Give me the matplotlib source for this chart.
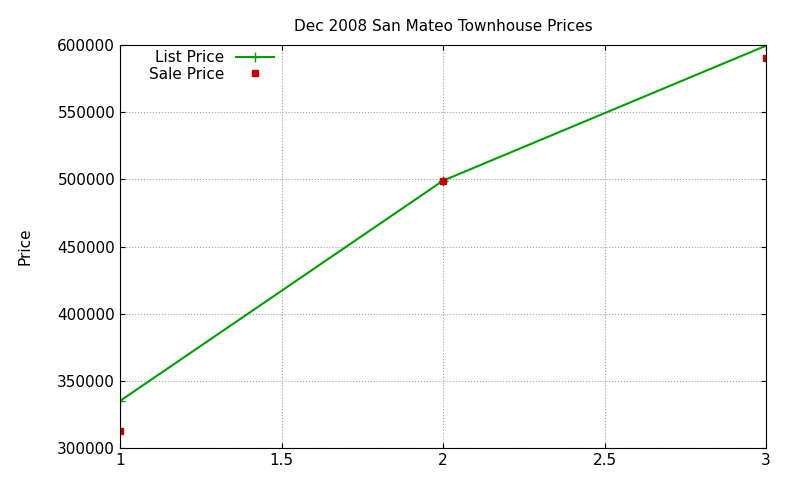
import matplotlib
matplotlib.use("Agg")
import matplotlib.pyplot as plt

x = [1, 2, 3]
list_price = [335000, 499000, 599500]
sale_price = [312700, 498800, 590300]

fig = plt.figure(figsize=(8, 4.8), dpi=100)
ax = fig.add_axes([0.15, 0.0667, 0.8075, 0.8395])

ax.plot(x, list_price, color="#00a000", marker="+", markersize=7, linewidth=1.5, label="List Price")
ax.plot(x, sale_price, color="#cc0000", marker="s", markersize=5, linestyle="none", label="Sale Price")

ax.set_xlim(1, 3)
ax.set_ylim(300000, 600000)
ax.set_xticks([1, 1.5, 2, 2.5, 3])
ax.set_xticklabels(["1", "1.5", "2", "2.5", "3"])
ax.set_yticks(range(300000, 600001, 50000))
ax.grid(True, color="#a0a0a0", linestyle=":", linewidth=0.8)
ax.tick_params(direction="in", labelsize=11, top=True, right=True)
ax.set_title("Dec 2008 San Mateo Townhouse Prices", fontsize=11, pad=10)
ax.set_ylabel("Price", fontsize=11, labelpad=18)
ax.legend(loc="upper left", frameon=False, markerfirst=False, fontsize=11,
          handlelength=2.5, borderaxespad=0.2, labelspacing=0.1, bbox_to_anchor=(0.03, 1.01))

fig.savefig("out.png", dpi=100)
